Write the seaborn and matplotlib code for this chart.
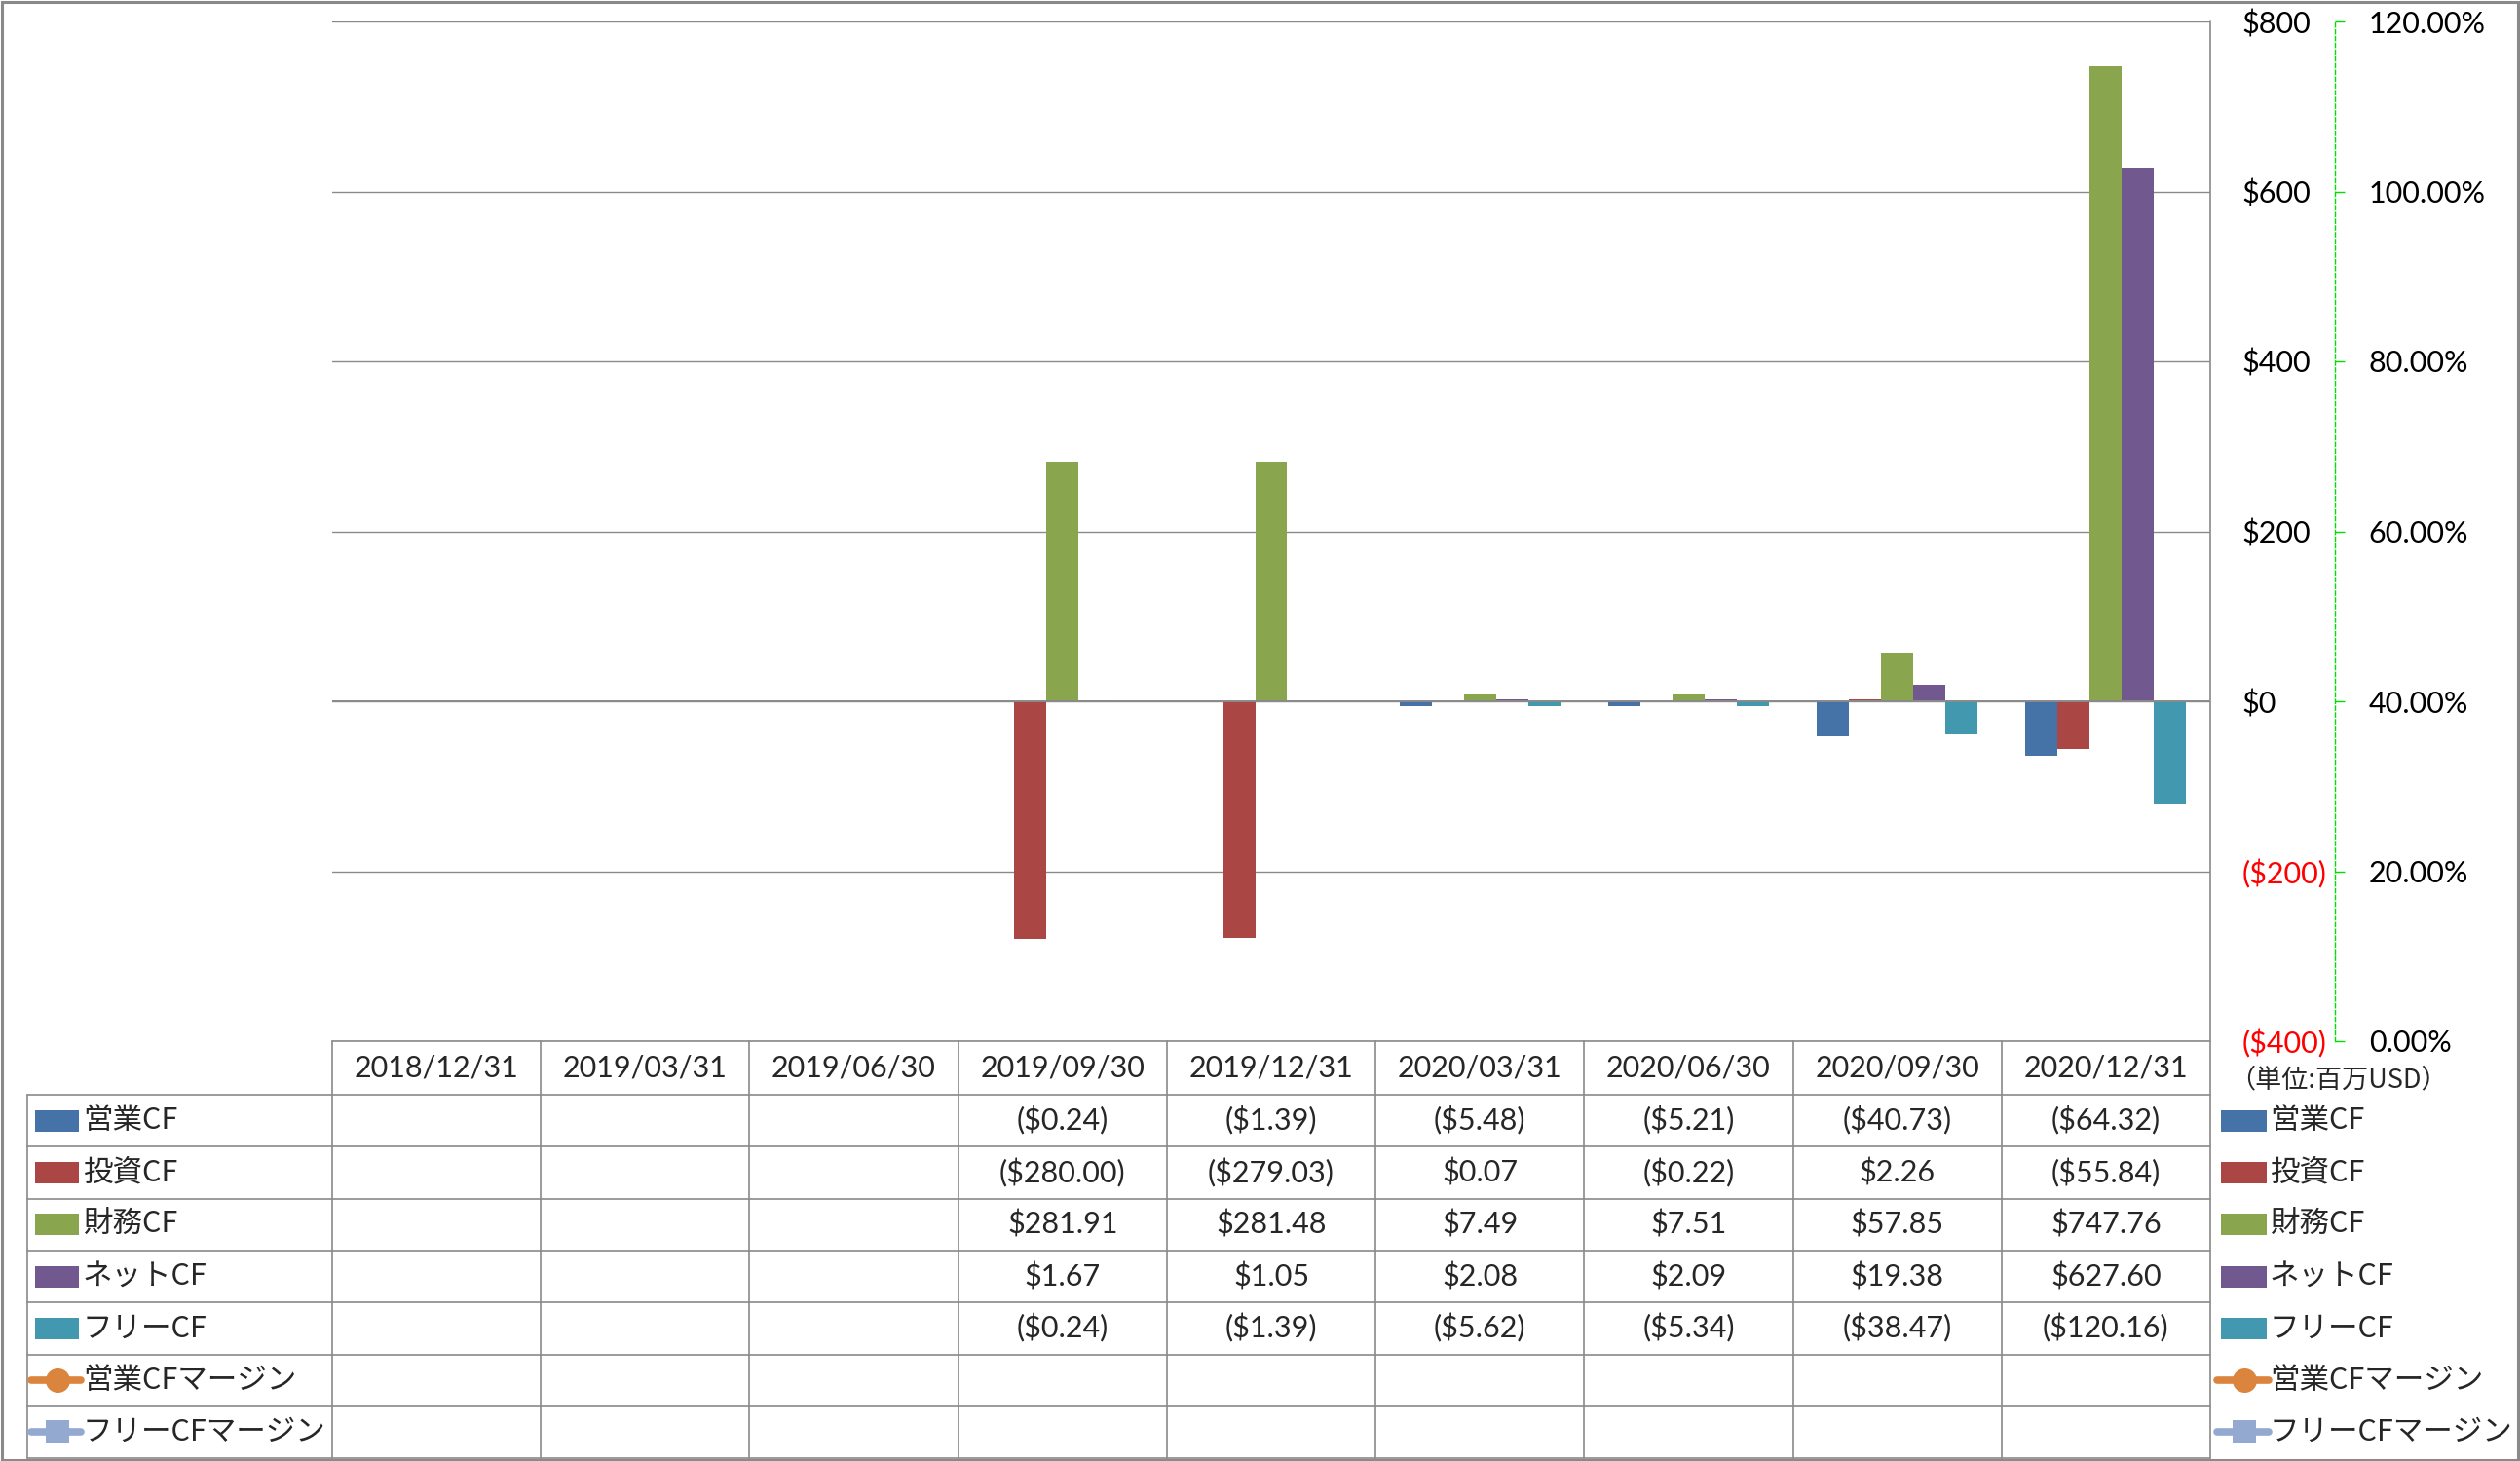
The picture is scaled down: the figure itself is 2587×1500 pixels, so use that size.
import numpy as np
import pandas as pd
import matplotlib
matplotlib.use("Agg")
import matplotlib.pyplot as plt
import matplotlib.transforms as mtransforms
from matplotlib.lines import Line2D
from matplotlib.patches import Rectangle
from matplotlib.ticker import FixedLocator, FuncFormatter
import seaborn as sns

# ---------------- data ----------------
dates = ["2018/12/31", "2019/03/31", "2019/06/30", "2019/09/30", "2019/12/31",
         "2020/03/31", "2020/06/30", "2020/09/30", "2020/12/31"]
bar_names = ["営業CF", "投資CF", "財務CF", "ネットCF", "フリーCF"]
line_names = ["営業CFマージン", "フリーCFマージン"]

op_cf = [None, None, None, -0.24, -1.39, -5.48, -5.21, -40.73, -64.32]
inv_cf = [None, None, None, -280.00, -279.03, 0.07, -0.22, 2.26, -55.84]
fin_cf = [None, None, None, 281.91, 281.48, 7.49, 7.51, 57.85, 747.76]
net_cf = [None, None, None, 1.67, 1.05, 2.08, 2.09, 19.38, 627.60]
free_cf = [None, None, None, -0.24, -1.39, -5.62, -5.34, -38.47, -120.16]
op_margin = [None, None, None, None, None, None, None, None, None]
free_margin = [None, None, None, None, None, None, None, None, None]

bar_colors = ["#4572A7", "#AA4643", "#89A54E", "#71588F", "#4198AF"]
line_colors = ["#DB843D", "#93A9CF"]
unit_label = "（単位:百万USD）"

# ---------------- style ----------------
sns.set_style("white")
plt.rcParams["font.family"] = ["Lato", "Noto Sans CJK JP", "DejaVu Sans"]
JP = ["Noto Sans CJK JP", "DejaVu Sans"]

W, H = 2587, 1500
fig = plt.figure(figsize=(W / 100, H / 100), dpi=100)

def fx(x):
    return x / W

def fy(y):
    return 1 - y / H

PL, PR, PT, PB = 341, 2269, 22, 1069
ax = fig.add_axes([fx(PL), fy(PB), (PR - PL) / W, (PB - PT) / H])

series_vals = [op_cf, inv_cf, fin_cf, net_cf, free_cf]
rows = []
for name, vals in zip(bar_names, series_vals):
    for d, v in zip(dates, vals):
        if v is not None:
            rows.append({"date": d, "series": name, "value": v})
df = pd.DataFrame(rows)

sns.barplot(data=df, x="date", y="value", hue="series", order=dates,
            hue_order=bar_names, palette=bar_colors, saturation=1,
            width=0.77, errorbar=None, linewidth=0, ax=ax, legend=False,
            zorder=3)

ax.set_xlim(-0.5, len(dates) - 0.5)
ax.set_ylim(-400, 800)
ax.set_xticks(range(len(dates)))
ax.set_xticklabels([])
ax.tick_params(axis="x", length=0)
ax.set_xlabel("")
ax.set_ylabel("")
ax.grid(axis="y", color="#8a8a8a", lw=1.0, zorder=0)
ax.grid(axis="x", visible=False)
ax.set_axisbelow(True)
ax.axhline(0, color="#8a8a8a", lw=1.4, zorder=4)
for s in ax.spines.values():
    s.set_visible(False)
ax.patch.set_alpha(0)

# secondary (percent) axis
ax2 = ax.twinx()
ax2.set_ylim(0, 1.2)
x_idx = list(range(len(dates)))
ax2.plot(x_idx, [np.nan if v is None else v for v in op_margin],
         color=line_colors[0], marker="o")
ax2.plot(x_idx, [np.nan if v is None else v for v in free_margin],
         color=line_colors[1], marker="s")
ax2.yaxis.set_major_locator(FixedLocator([0, 0.2, 0.4, 0.6, 0.8, 1.0, 1.2]))
ax2.yaxis.set_major_formatter(FuncFormatter(lambda v, p: f"{v*100:.2f}%"))
for k in ["left", "top", "bottom"]:
    ax2.spines[k].set_visible(False)
ax2.spines["right"].set_position(("axes", (2397 - PL) / (PR - PL)))
ax2.spines["right"].set_color("#00e000")
ax2.spines["right"].set_linestyle((0, (3, 2)))
ax2.spines["right"].set_linewidth(1.0)
ax2.tick_params(axis="y", color="#00e000", labelcolor="black", length=7,
                width=1.0, pad=18, labelsize=22)
ax2.grid(False)

# primary money axis on the right (after twinx, which resets it)
def money(v, pos=None):
    if v < 0:
        return f"(${-v:,.0f})"
    return f"${v:,.0f}"

yt = list(range(-400, 801, 200))
ax.yaxis.set_major_locator(FixedLocator(yt))
ax.yaxis.set_major_formatter(FuncFormatter(money))
ax.yaxis.tick_right()
ax.tick_params(axis="y", which="both", left=False, right=False,
               labelleft=False, labelright=True, length=0, pad=23.5,
               labelsize=22)
fig.canvas.draw()
for tk in ax.yaxis.get_major_ticks():
    v = tk.get_loc()
    tk.label2.set_color("red" if v < 0 else "black")

# ---------------- data table ----------------
line_kw = dict(color="#8a8a8a", lw=1.2, transform=fig.transFigure)
TL = 28
row_edges = [1124 + k * 53.3 for k in range(8)]
row_centers = [(row_edges[k] + row_edges[k + 1]) / 2 for k in range(7)]

fig.add_artist(Line2D([fx(PL), fx(PR)], [fy(PB), fy(PB)], **line_kw))
for y in row_edges:
    fig.add_artist(Line2D([fx(TL), fx(PR)], [fy(y), fy(y)], **line_kw))
fig.add_artist(Line2D([fx(TL), fx(TL)], [fy(row_edges[0]), fy(row_edges[-1])], **line_kw))
fig.add_artist(Line2D([fx(PR), fx(PR)], [fy(PT), fy(row_edges[-1])], **line_kw))
bt = mtransforms.blended_transform_factory(ax.transData, fig.transFigure)
for i in range(len(dates)):
    ax.add_line(Line2D([i - 0.5, i - 0.5], [fy(PB), fy(row_edges[-1])],
                       color="#8a8a8a", lw=1.2, transform=bt, clip_on=False))

for i, d in enumerate(dates):
    ax.text(i, fy((PB + row_edges[0]) / 2), d, transform=bt, ha="center",
            va="center", fontsize=22, clip_on=False)

def fmt(v):
    if v is None:
        return ""
    if v < 0:
        return f"(${-v:,.2f})"
    return f"${v:,.2f}"

all_rows = series_vals + [op_margin, free_margin]
for r, vals in enumerate(all_rows):
    yc = fy(row_centers[r])
    for i, v in enumerate(vals):
        t = fmt(v)
        if t:
            ax.text(i, yc, t, transform=bt, ha="center", va="center",
                    fontsize=22, clip_on=False)

def legend_key(x0, x1, yc, r):
    if r < 5:
        fig.add_artist(Rectangle((fx(x0), fy(yc + 11)), (x1 - x0) / W, 22 / H,
                                 transform=fig.transFigure, color=bar_colors[r], lw=0))
    else:
        c = line_colors[r - 5]
        mk = "o" if r == 5 else "s"
        fig.add_artist(Line2D([fx(x0 - 4), fx(x1 + 2)], [fy(yc), fy(yc)],
                              transform=fig.transFigure, color=c, lw=5.5,
                              solid_capstyle="round"))
        fig.add_artist(Line2D([fx((x0 + x1) / 2)], [fy(yc)],
                              transform=fig.transFigure, color=c, lw=0,
                              marker=mk, markersize=18 if r == 5 else 17,
                              markeredgewidth=0))

names = bar_names + line_names
for r, nm in enumerate(names):
    yc = row_centers[r]
    legend_key(36, 81, yc, r)
    fig.text(fx(85), fy(yc), nm, ha="left", va="center", fontsize=22,
             family=JP)
    legend_key(2280, 2327, yc, r)
    fig.text(fx(2330), fy(yc), nm, ha="left", va="center", fontsize=22,
             family=JP)

fig.text(fx(2288), fy(1109), unit_label, ha="left", va="center", fontsize=19.5,
         family=JP)

fig.add_artist(Rectangle((0.0006, 0.001), 0.9988, 0.998, transform=fig.transFigure,
                         fill=False, edgecolor="#8a8a8a", lw=2.2))

fig.savefig("out.png", dpi=100, facecolor="white")
